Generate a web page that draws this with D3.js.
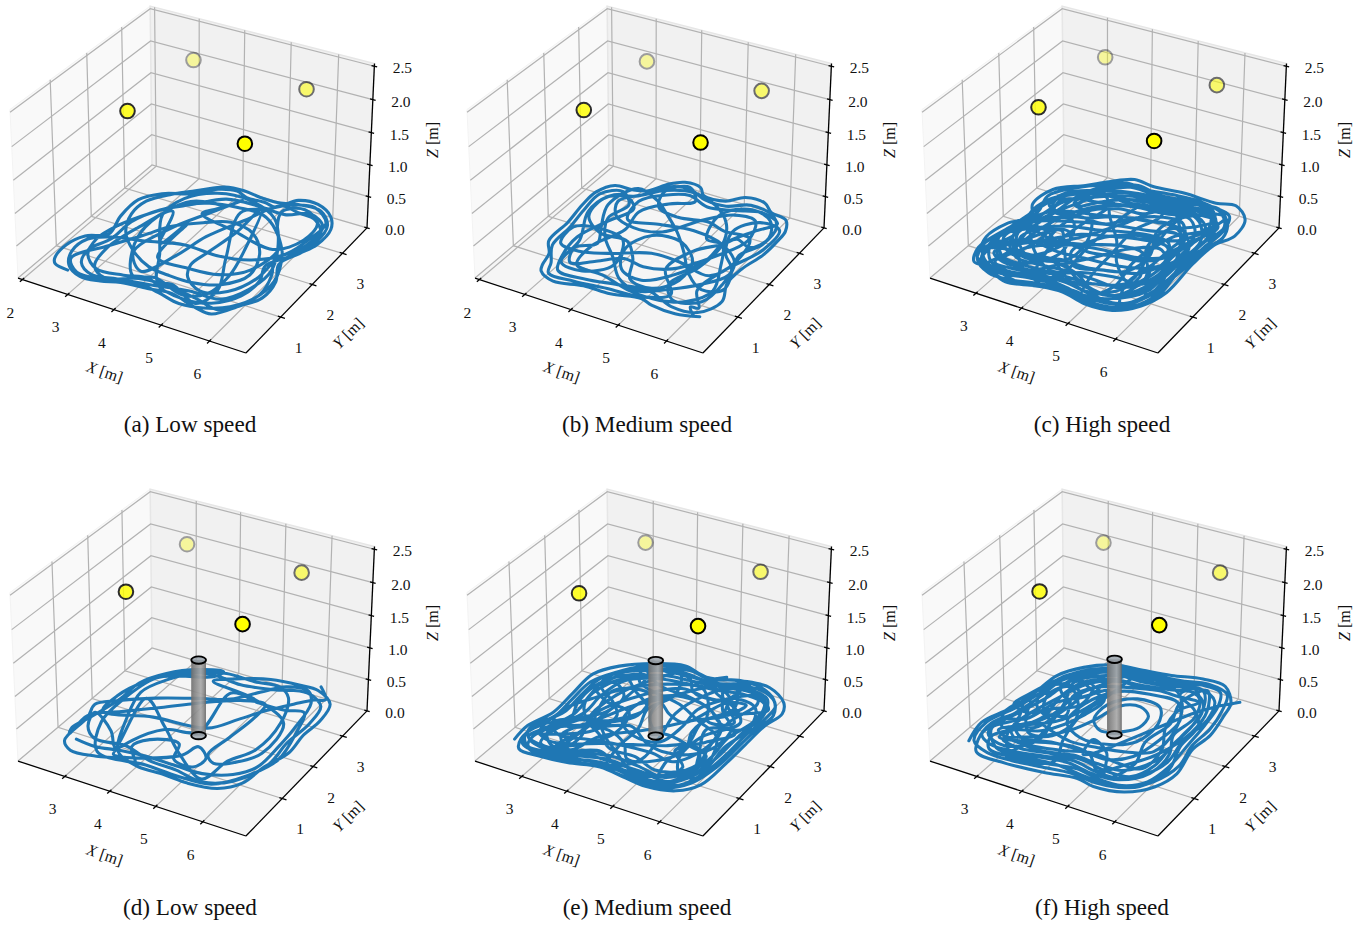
<!DOCTYPE html>
<html>
<head>
<meta charset="utf-8">
<script src="https://cdn.jsdelivr.net/npm/d3@7"></script>
<style>
  html, body { margin: 0; padding: 0; background: #fff; }
  text { font-family: "Liberation Serif", serif; fill: #111; }
</style>
</head>
<body>
<svg id="chart" width="1364" height="925"></svg>
<script>
// values, metres
let captions = ["(a) Low speed", "(b) Medium speed", "(c) High speed", "(d) Low speed", "(e) Medium speed", "(f) High speed"];
let xDomains = [[1.9, 6.74], [1.9, 6.74], [1.97, 6.87], [1.94, 6.9], [1.94, 6.9], [1.94, 6.9]];
let yDomains = [[-0.05, 3.85], [-0.05, 3.85], [-0.05, 3.85], [-0.12, 3.86], [-0.12, 3.86], [-0.12, 3.86]];
let zDomain = [0, 2.54];
let xTicks = [[2, 3, 4, 5, 6], [2, 3, 4, 5, 6], [3, 4, 5, 6], [3, 4, 5, 6], [3, 4, 5, 6], [3, 4, 5, 6]];
let yTicks = [1, 2, 3];
let zTicks = [0, 0.5, 1, 1.5, 2, 2.5];
let flightZ = 0.26;

let anchorAlpha = [1, 0.82, 0.55, 0.35];
let anchors = [
  [[5.95, 1.01, 2.4], [3.55, 1.00, 2.4], [5.95, 2.89, 2.4], [3.58, 2.865, 2.4]],
  [[5.91, 1.03, 2.4], [3.52, 1.02, 2.4], [5.95, 2.83, 2.4], [3.55, 2.80, 2.4]],
  [[5.98, 1.06, 2.4], [3.55, 1.09, 2.4], [5.97, 2.99, 2.4], [3.61, 2.94, 2.4]],
  [[6.01, 1.01, 2.4], [3.56, 1.00, 2.4], [6.02, 2.83, 2.4], [3.58, 2.77, 2.4]],
  [[6.02, 0.95, 2.4], [3.53, 0.93, 2.4], [6.035, 2.87, 2.4], [3.57, 2.83, 2.4]],
  [[6.10, 1.02, 2.4], [3.58, 1.02, 2.4], [6.125, 2.88, 2.4], [3.62, 2.85, 2.4]]
];

// obstacle only exists in the lower row
let obstacles = [null, null, null, [4.47, 1.89], [4.48, 1.88], [4.52, 1.94]];
let obstacleRadius = 0.14;
let obstacleHeight = 1.18;

let trajA = [[2.87,.28],[2.55,.33],[2.44,.44],[2.37,.81],[2.51,1.13],[2.86,1.34],[2.71,1.83],[2.69,2.33],[2.97,2.64],[3.47,2.85],[3.83,3.15],[4.19,3.24],[4.47,3.15],[4.88,3.16],[5.12,3.12],[5.39,3.45],[5.79,3.49],[6.21,3.28],[6.42,2.98],[6.44,2.53],[6.30,2.21],[6.14,1.83],[6.37,1.43],[6.41,.99],[6.19,.69],[5.87,.33],[5.50,.36],[4.92,.49],[4.46,.43],[3.93,.38],[3.58,.27],[3.18,.23],[2.79,.40],[2.58,.71],[2.61,1.08],[2.96,1.29],[3.58,1.43],[4.30,1.62],[5.01,1.60],[5.63,1.74],[6.09,2.11],[6.23,2.63],[6.24,3.09],[5.79,3.39],[5.31,3.26],[5.04,3.03],[4.64,2.74],[5.20,1.59],[5.59,.86],[5.45,.44],[4.79,.68],[4.49,.65],[4.05,1.25],[3.38,2.15],[3.44,2.68],[3.90,3.05],[4.56,3.11],[5.30,2.85],[5.80,2.28],[6.13,1.62],[6.07,1.09],[5.77,.69],[5.16,.66],[4.46,.53],[3.82,.43],[3.32,.35],[2.95,.53],[2.82,.87],[2.99,1.25],[3.0,1.77],[3.25,2.24],[3.70,2.61],[4.16,2.97],[4.83,3.03],[5.41,3.01],[5.84,3.21],[6.24,2.99],[6.28,2.45],[6.03,1.98],[6.02,1.37],[5.77,.90],[5.32,.73],[4.90,.94],[4.74,1.22],[4.80,1.60],[4.92,2.27],[4.93,2.98],[5.34,1.96],[5.54,1.24],[5.48,.71],[5.10,.53],[4.41,.71],[3.99,.61],[3.47,1.28],[3.32,1.92],[3.60,2.66],[4.24,2.76],[4.02,2.45],[4.84,2.28],[5.80,2.12],[6.15,2.54],[6.10,3.03],[5.66,3.27],[5.31,3.06],[5.51,2.65],[6.03,2.08],[6.34,1.42],[6.25,.82],[5.92,.46],[5.37,.55],[4.68,.63],[4.15,.58],[3.58,.37],[3.22,.55],[3.09,1.0],[3.21,1.66],[3.49,2.30],[3.87,1.47],[3.96,2.12],[4.08,1.16],[4.77,1.13],[5.35,1.20],[5.78,1.51],[5.88,2.21],[5.5,2.6],[5.05,2.85],[4.5,2.85],[3.95,2.75],[3.5,2.5],[3.15,2.1],[2.85,1.6],[2.75,1.15],[2.9,.75],[3.3,.5],[3.85,.55],[4.3,.65],[4.75,.5],[5.25,.45],[5.7,.55],[6.05,.9],[6.1,1.35],[5.95,1.7],[6.2,2.1],[6.38,2.6],[6.3,3.05],[5.95,3.35],[5.5,3.35],[5.1,3.25],[4.7,3.25],[4.3,3.3],[3.9,3.25],[3.55,3.0],[3.15,2.7],[2.85,2.35],[2.85,1.95],[3.1,1.5],[3.55,1.15],[4.1,.9],[4.55,.85],[5.05,.85],[5.55,1.0],[5.85,1.4],[5.65,1.95],[5.2,2.35],[4.65,2.45],[4.2,2.25],[3.75,1.95],[3.45,1.55],[3.05,1.05],[2.7,.55],[3.05,.3],[3.6,.33],[4.2,.48],[4.7,.42],[5.2,.33],[5.65,.4],[6.05,.6],[6.32,1.05],[6.2,1.55],[6.0,1.9],[6.28,2.35],[6.33,2.8],[6.0,3.1],[5.6,3.15],[5.2,3.2],[4.85,2.6],[4.5,1.95],[4.35,1.35],[4.05,.75],[3.6,1.1],[3.75,1.85],[4.15,2.55],[4.45,3.05]];

let trajB = [[6.40,.48],[5.97,.38],[5.47,.40],[5.20,.47],[4.64,.36],[4.08,.35],[3.52,.24],[3.15,.37],[3.05,.52],[2.95,.8],[2.71,1.07],[2.67,1.61],[2.57,2.12],[2.55,2.52],[2.74,2.81],[3.12,2.83],[3.41,2.92],[3.63,3.23],[3.87,3.39],[4.24,3.37],[4.43,3.20],[4.90,3.22],[5.17,3.45],[5.60,3.45],[5.86,3.27],[6.23,3.19],[6.41,2.92],[6.44,2.63],[6.43,2.22],[6.31,1.76],[6.31,1.35],[6.51,.94],[6.30,.55],[5.8,.5],[5.2,.68],[4.6,.6],[4.0,.5],[3.4,.5],[3.2,.85],[3.1,1.35],[3.3,1.9],[3.5,2.4],[3.1,2.65],[2.8,2.4],[2.9,1.9],[3.4,1.6],[4.0,1.6],[4.4,1.25],[4.7,.8],[5.2,.75],[5.5,1.1],[5.4,1.6],[4.9,1.95],[4.3,1.9],[4.1,1.4],[4.4,.95],[4.9,.85],[5.3,1.15],[5.6,1.7],[5.6,2.18],[5.9,2.7],[6.15,3.05],[5.7,3.2],[5.2,3.05],[4.7,2.95],[4.2,3.1],[3.8,2.95],[3.45,2.6],[3.6,2.1],[4.2,2.2],[4.9,2.3],[5.6,2.18],[6.1,1.85],[6.25,1.3],[6.2,.8],[5.7,.65],[5.4,.95],[5.6,1.5],[5.6,2.18],[5.3,2.7],[4.8,3.05],[4.2,3.2],[3.7,3.05],[3.3,2.7],[2.85,2.5],[2.8,2.0],[3.2,1.3],[3.3,.7],[3.8,.65],[4.2,1.0],[3.9,1.6],[3.3,1.7],[2.85,1.55],[2.95,1.1],[3.4,1.05],[3.9,1.2],[4.6,1.5],[5.2,1.5],[5.9,1.4],[6.1,1.9],[5.95,2.5],[5.4,2.5],[5.0,2.6],[4.4,2.5],[3.9,2.6],[3.7,3.0],[4.05,3.3],[4.4,3.0],[4.0,2.75],[3.65,2.35],[3.75,1.85],[3.5,1.25],[3.6,.75],[4.2,.7],[4.9,.55],[5.5,.55],[5.95,.7],[6.2,1.1],[5.95,1.65],[5.6,2.18],[5.25,2.2],[5.05,2.85],[5.5,3.2],[6.0,3.05],[6.25,2.65],[6.1,2.3],[5.75,2.4],[5.6,2.18],[5.25,1.85],[5.1,1.25],[5.6,.75],[5.15,.5],[4.5,.45],[3.85,.38],[3.3,.38],[3.15,.62],[2.85,1.0],[2.8,1.5],[2.7,2.0],[2.65,2.5],[3.0,2.72],[3.35,2.45],[3.25,2.0],[3.55,1.55],[4.05,1.15],[4.5,.75],[5.0,.6],[5.5,.85],[5.9,1.15],[6.2,1.55],[6.05,2.05],[6.25,2.45],[6.2,2.95],[5.95,3.2],[5.4,3.3],[5.0,3.1],[4.55,3.1],[4.1,3.25],[3.75,3.2],[3.4,2.8],[3.1,2.45],[3.35,2.1],[3.85,1.95],[4.4,2.05],[4.85,2.6],[5.3,2.95],[5.75,2.95],[5.95,2.45],[5.7,1.9],[5.2,1.3],[4.7,1.15],[4.25,1.2],[3.85,.95],[3.45,.75],[3.25,1.1],[3.55,1.35],[3.3,1.75],[3.0,2.3],[3.2,2.9],[3.75,2.75],[4.15,2.5],[4.65,2.15],[5.1,1.75],[5.55,1.3],[6.0,1.05],[6.35,1.2],[6.15,1.7],[5.8,2.0],[5.55,2.55],[5.85,2.95],[6.3,2.9],[6.35,2.35],[6.05,1.6],[5.95,1.0],[6.25,.65],[6.1,.62],[6.3,.45]];

let trajC = [[2.64,.58],[2.42,1.04],[2.51,1.48],[2.78,1.81],[2.55,2.11],[2.61,2.59],[3.09,2.92],[3.42,3.18],[3.82,3.42],[4.27,3.38],[4.94,3.44],[5.65,3.42],[6.03,3.50],[6.42,3.23],[6.52,2.77],[6.33,2.42],[6.29,1.85],[6.33,1.06],[6.14,.61],[5.76,.33],[5.23,.28],[4.67,.38],[4.14,.33],[3.58,.21],[3.18,.33],[2.75,.55],[2.6,1.0],[2.65,1.55],[2.75,2.1],[2.9,2.6],[3.4,2.9],[3.9,3.2],[4.4,3.2],[5.0,3.25],[5.6,3.3],[6.1,3.2],[6.25,2.8],[6.2,2.3],[6.2,1.8],[6.15,1.2],[6.0,.7],[5.6,.45],[5.1,.45],[4.5,.5],[3.9,.45],[3.3,.35],[2.85,.4],[2.7,.75],[2.85,1.25],[2.9,1.8],[3.05,2.4],[3.55,2.75],[4.1,3.0],[4.7,3.05],[5.3,3.15],[5.9,3.05],[6.1,2.55],[6.05,1.95],[6.05,1.4],[5.85,.85],[5.4,.6],[4.8,.65],[4.2,.6],[3.6,.55],[3.05,.55],[3.1,.95],[3.15,1.5],[3.3,2.0],[3.7,2.5],[4.3,2.75],[4.9,2.8],[5.5,2.85],[5.85,2.5],[5.85,1.9],[5.8,1.3],[5.5,.85],[4.95,.85],[4.4,.85],[3.8,.8],[3.3,.8],[2.9,1.1],[3.3,1.25],[3.9,1.2],[4.5,1.25],[5.1,1.3],[5.7,1.5],[6.0,2.0],[5.6,2.4],[5.0,2.3],[4.4,2.2],[3.8,2.05],[3.2,1.85],[2.75,1.6],[2.6,1.2],[3.0,.7],[3.6,.75],[3.95,1.2],[3.75,1.7],[3.25,1.65],[3.0,1.25],[3.35,.95],[3.9,1.0],[4.5,.7],[5.0,.55],[5.5,.75],[5.65,1.2],[5.4,1.7],[5.5,2.3],[5.95,2.7],[6.05,3.15],[5.55,3.1],[5.0,3.0],[4.6,2.65],[4.1,2.6],[3.6,2.3],[3.45,1.8],[3.55,1.3],[4.0,1.45],[4.6,1.55],[5.2,1.6],[5.7,1.8],[5.75,2.3],[5.3,2.6],[4.75,2.5],[4.2,2.4],[3.7,2.15],[3.0,2.1],[2.85,2.5],[3.25,2.75],[3.85,2.85],[4.45,2.95],[5.1,3.1],[5.7,3.15],[6.0,2.85],[5.95,2.3],[5.95,1.75],[5.95,1.2],[5.65,.7],[5.15,.6],[4.6,.85],[4.1,.95],[3.5,.95],[2.95,.9],[2.6,.75],[2.9,.5],[3.5,.4],[4.05,.55],[4.65,.5],[5.25,.42],[5.85,.55],[6.1,1.0],[6.15,1.55],[6.1,2.15],[6.1,2.7],[5.75,3.2],[5.2,3.3],[4.6,3.2],[4.0,3.3],[3.5,3.05],[3.1,2.65],[2.75,2.35],[2.7,1.85],[3.05,1.45],[3.5,1.05],[4.1,.75],[4.75,.95],[5.35,1.05],[5.75,1.05],[5.9,1.55],[5.6,2.05],[5.05,2.05],[4.45,1.9],[3.95,1.75],[3.6,1.5],[3.15,1.15],[2.8,.95],[3.2,.65],[3.8,.62],[4.35,.72],[5.0,.75],[5.55,1.0],[5.5,1.5],[5.25,1.95],[5.3,2.45],[5.7,2.7],[5.95,3.0],[5.4,3.0],[4.85,2.95],[4.3,2.95],[3.75,2.7],[3.35,2.35],[3.4,2.65],[3.95,3.05],[4.5,3.1],[5.15,3.2],[5.8,3.3],[6.2,3.0],[6.35,2.65],[6.15,2.05],[6.2,1.45],[6.25,.95],[5.95,.45],[5.45,.35],[4.9,.48],[4.3,.42],[3.7,.3],[3.1,.42],[2.7,.42],[2.5,.75],[2.62,1.4],[2.8,1.95],[2.65,2.4],[2.95,2.78],[3.35,3.05],[3.75,3.28],[4.2,3.25],[4.75,3.32],[5.35,3.35],[5.9,3.22],[6.2,2.9],[6.12,2.4],[6.12,1.7],[6.22,1.1],[6.08,.62],[5.65,.38],[5.2,.36],[4.7,.45],[4.15,.4],[3.6,.28],[3.15,.28],[2.7,.5],[2.52,.9],[2.7,1.3],[3.1,1.6],[3.6,1.85],[4.1,1.95],[4.6,2.1],[5.1,2.2],[5.55,2.15],[5.8,1.7],[5.6,1.3],[5.1,1.15],[4.6,1.05],[4.05,1.05],[3.45,.85],[3.0,1.05],[2.78,1.45],[2.95,2.0],[3.35,2.2],[3.85,2.3],[4.4,2.45],[5.0,2.55],[5.55,2.55],[5.98,2.15],[5.95,1.45],[5.7,.95],[5.2,.82],[4.65,.65],[4.05,.7],[3.5,.68],[3.12,.72],[3.3,1.1],[3.35,1.55],[3.1,1.95],[2.95,2.35],[3.2,2.55],[3.6,2.6],[4.0,2.7],[4.5,2.8],[5.05,2.9],[5.6,2.95],[5.9,2.75],[5.7,2.3],[5.25,2.15],[4.85,2.1],[4.3,1.75],[4.1,1.3],[4.4,1.0],[4.9,1.1],[5.35,1.25],[5.45,1.75],[5.15,2.35],[5.3,2.8],[5.8,3.05],[6.1,2.85],[5.85,2.25],[5.65,1.6],[5.85,1.15],[6.05,.8],[5.7,.5],[5.15,.52],[4.5,.6],[3.95,.55],[3.4,.45],[2.95,.55],[2.65,.9],[2.85,1.55],[3.4,1.45],[3.8,1.45],[4.2,1.55],[4.75,1.75],[5.3,1.75],[5.75,1.25],[5.55,.65],[4.9,.68],[4.3,.95],[3.9,1.35],[3.55,1.7],[3.15,1.3],[2.85,.75],[3.35,.6],[3.7,1.05],[3.5,1.5],[2.95,1.6],[2.72,1.15],[3.1,.85],[3.6,1.0],[3.85,1.6],[3.55,2.0],[3.05,1.85],[2.85,1.4],[3.2,.95],[3.75,.9],[4.2,1.15],[4.15,1.7],[3.75,2.25],[3.25,2.4],[3.45,2.85],[4.05,2.8],[4.65,2.9],[5.25,3.0],[5.7,2.85],[6.05,2.4],[6.0,1.6],[6.0,.95],[5.45,.52],[4.85,.45],[4.25,.5],[3.65,.45],[3.0,.4],[2.6,.6],[2.75,1.05],[3.05,1.1],[3.4,1.3],[3.95,1.45],[4.4,1.4],[4.95,1.5],[5.5,1.6],[5.85,2.1],[5.45,2.7],[4.95,2.7],[4.55,2.5],[4.15,2.15],[3.6,2.15],[3.2,2.1],[2.85,2.2],[3.05,2.65],[3.55,2.95],[4.15,3.1],[4.75,3.15],[5.4,3.25],[5.85,3.1],[6.15,2.65],[6.25,2.1],[6.18,1.3],[6.1,.85],[5.75,.42],[5.3,.3],[4.75,.42],[4.25,.36],[3.7,.24],[3.25,.3],[2.95,.4],[3.1,.9],[3.0,1.5],[3.1,2.1],[3.2,2.7],[3.6,3.1],[3.9,2.7],[3.8,2.1],[3.7,1.5],[3.75,.9],[4.0,.45],[4.35,.8],[4.3,1.4],[4.3,2.0],[4.35,2.6],[4.6,3.2],[4.95,2.75],[4.75,2.2],[4.8,1.5],[4.85,.9],[5.05,.4],[5.4,.85],[5.3,1.45],[5.35,2.05],[5.3,2.7],[5.6,3.25],[5.95,2.8],[5.7,2.2],[5.65,1.6],[5.55,.95],[5.8,.5],[6.1,.9],[6.0,1.5],[5.55,1.95],[5.0,1.75],[4.55,1.3],[4.15,.95],[3.65,.6],[3.25,.95],[3.65,1.35],[4.05,1.75],[4.5,2.35],[4.95,3.0],[5.45,2.6],[5.85,2.05],[6.05,1.45],[5.6,1.0],[5.05,1.35],[4.65,1.85],[4.1,2.35],[3.65,2.8],[3.25,2.35],[2.95,1.75]];

let trajD = [[2.81,.58],[3.25,.55],[3.75,.64],[4.29,.69],[4.92,.69],[5.48,.70],[5.99,.89],[6.26,1.22],[6.27,1.83],[6.23,2.32],[6.08,3.06],[5.82,3.34],[5.37,3.28],[5.02,2.96],[4.64,2.58],[4.08,2.37],[3.35,2.07],[2.74,1.73],[2.44,1.49],[2.57,1.15],[2.64,.47],[2.92,.30],[3.46,.35],[3.94,.47],[4.34,.41],[4.89,.42],[5.40,.40],[5.97,.49],[6.28,.77],[6.37,1.27],[6.54,1.75],[6.49,2.24],[6.53,2.71],[6.42,3.17],[5.98,3.42],[5.56,3.42],[4.97,3.35],[4.46,3.16],[4.01,2.89],[5.01,2.76],[5.96,2.39],[6.11,1.55],[5.81,1.16],[5.49,1.0],[5.25,1.15],[5.31,1.68],[5.38,2.32],[5.33,2.70],[4.83,2.62],[4.16,2.25],[3.62,1.89],[3.03,1.51],[2.54,1.18],[2.59,.65],[2.51,.81],[2.62,1.17],[2.76,1.80],[2.77,2.31],[3.05,2.74],[3.53,3.07],[4.01,3.20],[3.93,3.0],[3.31,2.77],[2.96,2.55],[2.82,1.82],[2.89,1.14],[3.38,.46],[4.42,.50],[5.13,.48],[5.80,.54],[6.23,.95],[6.48,1.52],[6.33,2.26],[6.13,2.78],[5.76,2.70],[5.20,2.69],[4.54,2.73],[4.70,1.60],[4.09,1.41],[3.76,.95],[3.70,.51],[4.82,.94],[4.96,1.26],[5.28,1.06],[5.22,.78],[4.77,.82],[4.59,1.19],[4.03,1.08],[3.86,.80],[4.23,.46],[3.73,.60],[3.24,1.41],[2.98,2.10],[3.20,2.61],[3.58,2.99],[4.09,3.18],[4.73,3.18],[5.26,3.23],[5.60,3.03],[5.91,2.37],[5.95,1.58],[5.68,1.14],[5.56,.58],[4.82,.94],[4.03,1.48],[3.19,2.0],[3.60,.67],[3.23,1.0],[2.60,1.31],[2.75,.95],[3.1,.72],[3.75,.78],[4.4,.62],[5.0,.6],[5.6,.52],[6.1,.75],[6.4,1.35],[6.35,1.95],[6.4,2.55],[6.3,3.05],[5.85,3.28],[5.2,3.12],[4.55,3.0],[3.9,3.05],[3.3,2.88],[2.85,2.4],[2.65,1.85],[2.7,1.4],[3.67,1.61],[4.78,1.74],[5.14,2.16],[5.44,2.55],[5.82,2.93],[6.08,3.16],[6.27,3.25],[5.97,3.53]];

let trajE = [[2.50,.45],[2.45,.84],[2.62,1.32],[2.57,1.91],[2.53,2.50],[2.83,2.89],[3.39,3.21],[3.98,3.38],[4.56,3.25],[5.23,3.42],[5.84,3.45],[6.34,3.18],[6.50,2.90],[6.41,2.50],[6.40,1.89],[6.39,1.38],[6.33,.74],[6.03,.45],[5.47,.34],[5.02,.38],[4.41,.44],[3.80,.31],[3.26,.26],[2.76,.27],[2.6,.5],[2.6,.95],[2.8,1.4],[2.75,1.95],[2.75,2.45],[3.05,2.8],[3.55,3.05],[4.1,3.2],[4.7,3.15],[5.3,3.3],[5.85,3.3],[6.25,3.05],[6.3,2.65],[6.25,2.2],[6.25,1.6],[6.2,1.05],[6.0,.6],[5.5,.5],[5.0,.5],[4.45,.55],[3.85,.45],[3.3,.4],[2.85,.4],[2.75,.65],[2.95,1.1],[3.15,1.55],[3.1,2.05],[3.2,2.55],[3.7,2.85],[4.3,2.95],[4.95,3.0],[5.55,3.1],[6.05,3.0],[6.15,2.5],[6.0,1.95],[6.05,1.4],[5.95,.95],[5.6,.65],[5.0,.72],[4.4,.75],[3.8,.62],[3.2,.58],[2.9,.85],[3.3,1.2],[3.9,1.3],[4.4,1.1],[4.7,.8],[5.2,.95],[5.5,1.4],[5.3,1.85],[5.4,2.35],[5.8,2.6],[6.2,2.9],[5.8,3.15],[5.3,2.85],[5.0,2.4],[5.05,1.9],[4.95,1.4],[4.4,1.35],[3.95,1.6],[3.9,2.15],[4.3,2.55],[4.8,2.6],[5.3,2.45],[5.75,2.1],[5.8,1.55],[5.5,1.05],[5.0,1.1],[4.3,1.05],[3.7,.95],[3.15,.85],[2.8,1.05],[3.1,1.35],[3.5,1.7],[3.5,2.2],[3.1,2.45],[2.85,2.2],[3.3,1.95],[3.9,1.85],[4.05,1.3],[3.7,.8],[3.3,.6],[3.45,1.1],[3.35,1.6],[3.75,2.3],[4.35,2.8],[4.9,2.75],[5.5,2.75],[5.95,2.4],[5.55,1.8],[5.55,1.15],[5.85,.8],[6.1,1.2],[5.8,1.9],[5.2,2.15],[4.6,2.4],[4.0,2.5],[3.5,2.65],[3.3,3.0],[3.75,3.1],[4.3,3.1],[4.6,2.8],[5.1,2.75],[5.5,2.95],[5.95,2.85],[6.2,2.35],[6.1,1.7],[6.15,1.15],[5.85,.6],[5.4,.45],[4.9,.62],[4.35,.65],[3.75,.5],[3.2,.45],[2.75,.55],[2.55,.75],[2.7,1.15],[3.2,1.1],[3.7,1.45],[4.1,1.85],[3.95,2.4],[3.55,2.45],[3.2,2.2],[3.55,1.35],[4.2,1.55],[4.7,1.3],[5.15,1.2],[5.7,1.35],[5.95,1.7],[5.9,2.2],[5.45,2.55],[5.05,3.05],[4.3,3.3],[3.75,3.28],[3.25,3.05],[2.9,2.72],[2.65,2.3],[2.68,1.75],[2.72,1.25],[2.55,.85],[2.7,.42],[3.15,.33],[3.7,.4],[4.2,.5],[4.75,.42],[5.25,.4],[5.75,.42],[6.15,.72],[6.3,1.25],[6.32,1.8],[6.33,2.35],[6.38,2.8],[6.12,3.18],[5.65,3.4],[5.1,3.38],[4.65,3.22],[4.15,3.3],[3.65,3.15],[3.15,2.95],[2.85,2.55],[2.9,2.0],[3.0,1.45],[2.85,1.0],[2.68,.6],[3.1,.5],[3.6,.52],[4.1,.62],[4.6,.62],[5.15,.62],[5.7,.58],[6.05,.85],[6.15,1.45],[6.15,2.05],[6.18,2.65],[5.95,3.12],[5.4,3.2],[4.85,3.1],[4.35,3.05],[3.85,3.0],[3.4,2.8],[3.0,2.4],[2.95,1.8],[3.3,1.4],[3.8,1.15],[4.25,.9],[4.8,.9],[5.35,.75],[5.85,.95],[5.95,1.4],[5.55,1.5],[5.1,1.6],[4.6,1.65],[4.3,1.95],[4.25,2.3],[4.6,2.1],[5.0,2.0],[5.38,2.78],[5.75,2.85],[5.55,2.45],[5.38,2.78],[5.0,2.95],[5.38,3.2],[5.38,2.78],[5.85,2.35],[5.38,2.2],[5.1,2.6],[4.7,2.95],[4.15,2.85],[3.65,2.6],[3.3,2.3],[3.0,1.9],[2.77,1.55],[2.77,.78],[3.2,.9],[3.65,1.2],[3.75,1.7],[3.4,2.0],[2.95,2.25],[3.1,2.7],[3.6,2.4],[4.1,2.1],[3.75,1.55],[3.15,1.3],[2.77,.78],[3.1,.65],[3.55,.75],[4.0,.95],[4.55,1.15],[5.1,1.35],[5.6,1.55],[5.95,1.2],[5.75,.8],[5.25,.58],[4.7,.55],[4.15,.78],[3.55,.55],[3.0,.55],[3.0,1.0],[3.45,1.45],[4.0,1.1],[4.45,.85],[4.95,.58],[5.45,.6],[5.75,1.0],[5.35,1.3],[5.7,1.7],[6.05,2.1],[5.6,2.25],[5.2,2.5],[4.6,2.65],[3.95,2.7],[3.45,2.95],[3.9,3.15],[4.45,3.15],[5.05,3.2],[5.6,3.25],[6.0,3.15],[6.22,2.7],[6.1,2.25],[5.5,2.0],[5.85,1.3],[6.1,.75],[5.65,.42],[5.15,.45],[4.6,.5],[4.05,.4],[3.45,.33],[2.95,.33],[2.6,.6],[2.7,1.0],[3.05,1.25],[2.85,1.7],[2.8,2.2],[3.0,2.6],[3.5,2.85],[3.4,.35],[3.55,.95],[3.3,1.55],[3.35,2.15],[3.65,2.75],[4.05,3.15],[4.35,2.6],[4.15,2.05],[4.35,1.55],[4.35,1.0],[4.5,.5],[4.95,.9],[4.85,1.55],[4.7,2.15],[4.85,2.75],[5.25,3.2],[5.6,2.7],[5.3,2.15],[5.45,1.55],[5.4,.95],[5.6,.5],[6.0,1.0],[5.85,1.6],[5.75,2.3],[5.9,3.0],[5.45,3.35],[4.75,3.0],[4.25,2.45],[3.85,2.05],[3.5,1.45],[3.2,.85],[3.6,.6],[3.85,1.1],[4.55,1.6],[5.1,2.1],[5.65,2.6],[5.2,3.0],[4.5,3.0],[4.91,3.4]];

let trajF = [[2.52,.41],[2.37,.90],[2.57,1.40],[2.68,1.96],[2.72,2.53],[3.02,2.93],[3.53,3.22],[4.11,3.29],[4.70,3.37],[5.31,3.51],[5.82,3.49],[6.21,3.12],[6.31,2.76],[6.41,2.20],[6.35,1.76],[6.49,1.12],[6.35,.70],[5.94,.38],[5.36,.29],[4.97,.35],[4.33,.25],[3.53,.18],[2.86,.22],[2.65,.5],[2.55,.95],[2.75,1.35],[2.85,1.9],[2.9,2.45],[3.25,2.85],[3.7,3.1],[4.25,3.15],[4.85,3.2],[5.4,3.35],[5.85,3.3],[6.05,2.95],[6.15,2.4],[6.2,1.85],[6.25,1.2],[6.15,.75],[5.8,.5],[5.3,.48],[4.8,.55],[4.2,.45],[3.6,.37],[3.0,.38],[2.8,.65],[3.05,1.0],[3.3,1.5],[3.2,2.05],[3.3,2.55],[3.75,2.85],[4.3,2.9],[4.9,3.0],[5.45,3.1],[5.8,2.85],[5.95,2.3],[5.95,1.7],[6.0,1.15],[5.8,.75],[5.3,.7],[4.7,.78],[4.1,.7],[3.5,.6],[3.05,.68],[3.6,1.0],[4.0,1.35],[4.22,1.77],[4.39,2.26],[4.75,2.38],[5.05,2.22],[5.1,1.9],[4.91,1.69],[4.5,1.55],[4.2,1.75],[4.15,2.2],[4.55,2.55],[5.1,2.5],[5.35,2.1],[5.3,1.55],[4.9,1.3],[4.3,1.25],[3.8,1.5],[3.75,2.05],[4.1,2.6],[4.7,2.75],[5.3,2.75],[5.65,2.35],[5.65,1.75],[5.5,1.2],[5.1,.95],[4.5,.98],[3.9,.95],[3.3,.85],[2.95,1.1],[3.35,1.15],[3.5,1.65],[3.5,2.25],[3.1,2.4],[2.75,2.1],[3.0,1.65],[3.5,1.4],[3.65,.9],[3.2,.55],[2.7,.7],[2.65,1.1],[3.05,1.3],[3.25,1.9],[3.7,2.35],[3.6,2.8],[3.15,2.7],[3.55,2.45],[4.0,2.3],[3.95,1.8],[3.55,1.15],[3.0,.9],[3.4,.45],[4.0,.55],[4.55,.62],[5.15,.55],[5.65,.6],[6.05,.95],[6.05,1.5],[5.8,1.95],[5.85,2.5],[5.6,3.0],[5.1,3.15],[4.5,3.05],[3.95,3.05],[3.45,2.95],[3.1,2.6],[3.0,2.15],[2.65,1.75],[2.9,1.25],[2.65,.85],[3.1,.45],[3.8,.45],[4.4,.5],[5.0,.45],[5.6,.42],[6.1,.6],[6.3,1.15],[6.1,1.75],[6.05,2.35],[5.7,2.7],[5.2,2.95],[5.35,3.2],[5.65,2.95],[5.25,3.3],[4.75,3.28],[4.2,3.25],[3.65,3.18],[3.15,2.85],[2.85,2.55],[2.78,2.0],[2.65,1.45],[2.45,.95],[2.6,.45],[3.05,.28],[3.6,.28],[4.2,.35],[4.8,.42],[5.35,.38],[5.9,.48],[6.25,.8],[6.4,1.3],[6.28,1.85],[6.3,2.35],[6.2,2.85],[6.0,3.3],[5.5,3.42],[4.95,3.3],[4.4,3.22],[3.85,3.2],[3.35,2.95],[3.05,2.55],[3.0,2.0],[2.85,1.5],[2.7,1.1],[2.6,.65],[2.95,.48],[3.5,.5],[4.05,.6],[4.6,.7],[5.15,.62],[5.6,.62],[5.95,.85],[6.15,1.3],[6.05,1.9],[6.1,2.55],[5.9,3.05],[5.4,3.25],[4.9,3.1],[4.35,3.0],[3.8,2.98],[3.35,2.75],[3.0,2.3],[3.35,2.05],[3.9,2.55],[3.85,1.95],[3.6,1.45],[3.15,1.15],[2.8,.85],[3.2,.72],[3.75,.75],[4.25,.85],[4.8,1.0],[5.4,.95],[5.85,1.0],[5.85,1.55],[5.55,2.05],[5.45,2.55],[5.65,2.9],[5.2,2.9],[4.75,2.9],[4.15,2.75],[3.65,2.55],[3.4,2.15],[3.65,1.65],[3.2,1.6],[2.95,2.0],[3.15,2.35],[3.55,2.1],[3.9,1.6],[3.8,1.1],[3.35,1.0],[3.0,1.35],[2.75,1.75],[2.55,1.3],[2.8,.95],[3.3,1.3],[3.7,1.2],[4.2,1.1],[4.75,1.15],[5.3,1.25],[5.75,1.45],[5.75,2.05],[5.4,2.75],[5.0,3.05],[4.45,2.85],[3.95,2.85],[3.45,2.6],[3.25,2.2],[3.0,.95],[3.4,.72],[3.95,.7],[4.5,.82],[5.05,.8],[5.55,.82],[5.95,1.3],[5.95,2.0],[5.9,2.65],[5.55,3.2],[5.0,3.2],[4.4,3.12],[3.85,3.1],[3.4,3.05],[3.0,2.75],[2.75,2.3],[2.6,1.85],[2.55,1.55],[2.95,1.45],[3.35,1.75],[3.7,2.0],[3.55,2.55],[3.15,2.5],[3.4,1.9],[3.6,.95],[3.4,.35],[4.3,.55],[4.05,1.1],[3.9,1.75],[4.0,2.45],[4.05,3.15],[3.75,2.75],[3.45,2.2],[3.4,1.55],[3.2,1.2],[2.95,.7],[4.25,1.0],[4.75,.95],[5.15,.65],[5.5,.95],[5.85,1.4],[6.05,2.15],[5.95,2.75],[5.6,3.25],[5.35,2.75],[5.55,2.2],[5.45,1.6],[5.65,1.05],[5.4,.55],[5.0,1.1],[4.55,1.3],[4.65,.9],[5.75,2.6],[6.0,2.9],[6.35,3.20]];

let trajectories = [trajA, trajB, trajC, trajD, trajE, trajF];

// layout of the small multiples, px
let panelDx = [0, 457, 912];
let panelDy = [0, 483];

let svg = d3.select("#chart");

let defs = svg.append("defs");
let cylGrad = defs.append("linearGradient").attr("id", "cylGrad");
[[0, "#6e6e6e"], [0.25, "#868686"], [0.65, "#a9a9a9"], [0.85, "#8a8a8a"], [1, "#666"]].forEach(s => {
  cylGrad.append("stop").attr("offset", s[0]).attr("stop-color", s[1]);
});

// same camera as mplot3d at elev=30, azim=-60
let boxAspect = [1.19, 1.19, 0.893];
let viewDist = 10;
function camera(nx, ny, nz) {
  let px = (nx - 0.5) * boxAspect[0], py = (ny - 0.5) * boxAspect[1], pz = (nz - 0.5) * boxAspect[2];
  let u = 0.866 * px + 0.5 * py;
  let v = -0.25 * px + 0.433 * py + 0.866 * pz;
  let w = 0.433 * px - 0.75 * py + 0.5 * pz;
  let k = 1 - w / viewDist;
  return [u / k, v / k];
}
let screenX = d3.scaleLinear().domain([camera(0, 0, 0)[0], camera(1, 1, 0)[0]]).range([18, 367]);
let screenY = d3.scaleLinear().domain([camera(1, 0, 0)[1], camera(0, 1, 0)[1]]).range([353, 165]);
let pxPerUnit = (screenX.range()[1] - screenX.range()[0]) / (screenX.domain()[1] - screenX.domain()[0]);

// the flight paths were read with a flat approximation of the camera, this undoes its squeeze
let flightY = d3.scaleLinear().domain([0.3, 3.4]).range([0.15, 3.56]);

function drawPanel(i) {
  let col = i % 3, row = Math.floor(i / 3);
  let g = svg.append("g").attr("transform", "translate(" + [panelDx[col], panelDy[row]] + ")");

  let xNorm = d3.scaleLinear().domain(xDomains[i]).range([0, 1]);
  let yNorm = d3.scaleLinear().domain(yDomains[i]).range([0, 1]);
  let zNorm = d3.scaleLinear().domain(zDomain).range([0, 0.975]);

  let toScreen = function(nx, ny, nz) {
    let c = camera(nx, ny, nz);
    return [screenX(c[0]), screenY(c[1])];
  };
  let world = function(x, y, z) {
    return toScreen(xNorm(x), yNorm(y), zNorm(z));
  };
  let poly = pts => d3.line()(pts.map(p => toScreen(p[0], p[1], p[2])));

  // panes
  let zTop = zNorm(zDomain[1]);
  g.append("path").attr("d", poly([[0, 0, 0], [0, 1, 0], [0, 1, zTop], [0, 0, zTop]]) + "Z")
    .attr("fill", "#f9f9f9").attr("stroke", "#f3f3f3");
  g.append("path").attr("d", poly([[0, 1, 0], [1, 1, 0], [1, 1, zTop], [0, 1, zTop]]) + "Z")
    .attr("fill", "#f1f1f1").attr("stroke", "#e6e6e6").attr("stroke-width", 1.5);
  g.append("path").attr("d", poly([[0, 0, 0], [1, 0, 0], [1, 1, 0], [0, 1, 0]]) + "Z")
    .attr("fill", "#f5f5f5").attr("stroke", "#eeeeee");

  // grid
  let grid = g.append("g").attr("fill", "none").attr("stroke", "#b2b2b2").attr("stroke-width", 1.2);
  xTicks[i].forEach(t => {
    let n = xNorm(t);
    grid.append("path").attr("d", poly([[n, 0, 0], [n, 1, 0], [n, 1, zTop]]));
  });
  yTicks.forEach(t => {
    let n = yNorm(t);
    grid.append("path").attr("d", poly([[1, n, 0], [0, n, 0], [0, n, zTop]]));
  });
  zTicks.forEach(t => {
    let n = zNorm(t);
    grid.append("path").attr("d", poly([[0, 0, n], [0, 1, n], [1, 1, n]]));
  });

  // axes + ticks
  let axes = g.append("g").attr("fill", "none").attr("stroke", "#000").attr("stroke-width", 1.3);
  axes.append("path").attr("d", poly([[0, 0, 0], [1, 0, 0]]));
  axes.append("path").attr("d", poly([[1, 0, 0], [1, 1, 0]]));
  axes.append("path").attr("d", poly([[1, 1, 0], [1, 1, zTop]]));

  let labels = g.append("g").attr("font-size", 15.5).attr("text-anchor", "middle");
  xTicks[i].forEach(t => {
    let n = xNorm(t);
    axes.append("path").attr("d", poly([[n, -0.018, 0], [n, 0.012, 0]]));
    let p = toScreen(n, 0, 0);
    labels.append("text").attr("x", p[0] - 12).attr("y", p[1] + 38).text(t);
  });
  yTicks.forEach(t => {
    let n = yNorm(t);
    axes.append("path").attr("d", poly([[0.988, n, 0], [1.018, n, 0]]));
    let p = toScreen(1, n, 0);
    labels.append("text").attr("x", p[0] + 18).attr("y", p[1] + 36).text(t);
  });
  zTicks.forEach(t => {
    let n = zNorm(t);
    axes.append("path").attr("d", poly([[0.988, 1, n], [1.012, 1, n]]));
    let p = toScreen(1, 1, n);
    labels.append("text").attr("x", p[0] + 28).attr("y", p[1] + 7).text(d3.format(".1f")(t));
  });

  // axis titles
  let title = function(x, y, rot, letter) {
    let t = g.append("text").attr("font-size", 16).attr("text-anchor", "middle")
      .attr("transform", "translate(" + [x, y] + ") rotate(" + rot + ")");
    t.append("tspan").attr("font-style", "italic").text(letter);
    t.append("tspan").text(" [m]");
  };
  title(103, 377, 19, "X");
  title(352, 337, -45, "Y");
  title(438, 140, -90, "Z");

  // trajectory
  let line = d3.line()
    .x(d => world(d[0], flightY(d[1]), flightZ)[0])
    .y(d => world(d[0], flightY(d[1]), flightZ)[1])
    .curve(d3.curveCatmullRom.alpha(0.5));
  g.append("path").attr("d", line(trajectories[i]))
    .attr("fill", "none").attr("stroke", "#1f77b4").attr("stroke-width", 3.1)
    .attr("stroke-linejoin", "round").attr("stroke-linecap", "round");

  // anchors
  g.selectAll("circle.anchor").data(anchors[i]).enter().append("circle")
    .attr("class", "anchor")
    .attr("cx", d => world(d[0], d[1], d[2])[0])
    .attr("cy", d => world(d[0], d[1], d[2])[1])
    .attr("r", 7.3)
    .attr("fill", "#ffff00").attr("stroke", "#000").attr("stroke-width", 2)
    .attr("opacity", (d, k) => anchorAlpha[k]);

  // obstacle
  if (obstacles[i]) {
    let ox = obstacles[i][0], oy = obstacles[i][1];
    let rx = obstacleRadius / (xDomains[i][1] - xDomains[i][0]) * boxAspect[0] * pxPerUnit;
    let bottom = world(ox, oy, 0), top = world(ox, oy, obstacleHeight);
    g.append("rect").attr("x", bottom[0] - rx).attr("y", top[1]).attr("width", 2 * rx).attr("height", bottom[1] - top[1])
      .attr("fill", "url(#cylGrad)").attr("opacity", 0.92);
    [top, bottom].forEach(c => {
      g.append("ellipse").attr("cx", c[0]).attr("cy", c[1]).attr("rx", rx).attr("ry", rx * 0.5)
        .attr("fill", "#8f9aa3").attr("fill-opacity", 0.75).attr("stroke", "#000").attr("stroke-width", 1.9);
    });
  }

  // caption
  g.append("text").attr("x", 190).attr("y", 432).attr("text-anchor", "middle")
    .attr("font-size", 23.2).text(captions[i]);
}

d3.range(6).forEach(drawPanel);
</script>
</body>
</html>
